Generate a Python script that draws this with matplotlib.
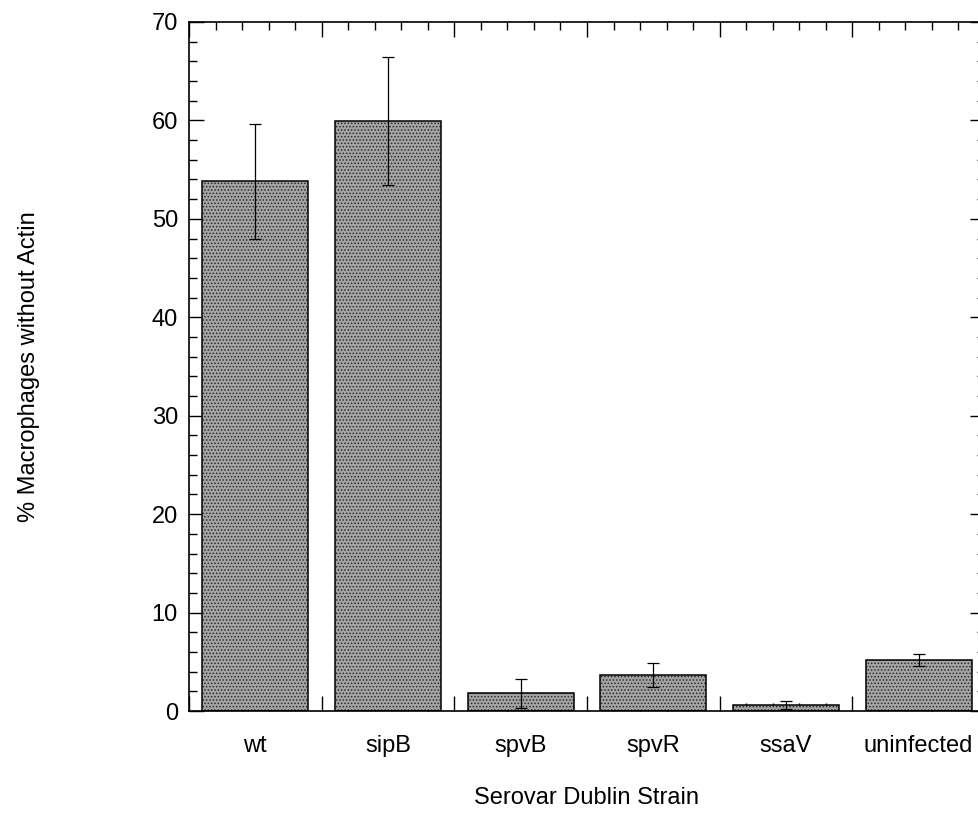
import matplotlib
matplotlib.use("Agg")
from matplotlib import pyplot as plt
from matplotlib.ticker import MultipleLocator, NullFormatter
import numpy as np

plt.rcParams['font.family'] = ['Liberation Sans', 'DejaVu Sans']
plt.rcParams['hatch.linewidth'] = 0.7

strains = ['wt', 'sipB', 'spvB', 'spvR', 'ssaV', 'uninfected']
pct_no_actin = [53.8, 59.9, 1.8, 3.65, 0.6, 5.15]
pct_err = [5.8, 6.5, 1.5, 1.2, 0.4, 0.6]

x = np.arange(len(strains)) + 0.5

fig = plt.figure(figsize=(9.79, 8.23), dpi=100)
ax = fig.add_axes([189 / 979, 112 / 823, 796 / 979, 689 / 823])

# stippled fill, then the dark outline on top
ax.bar(x, pct_no_actin, width=0.8, color='#a4a4a4', edgecolor='#2a2a2a',
       linewidth=0, hatch='.....', zorder=2)
ax.bar(x, pct_no_actin, width=0.8, fill=False, edgecolor='black',
       linewidth=1.1, zorder=3)

ax.errorbar(x, pct_no_actin, yerr=pct_err, fmt='none', ecolor='black',
            elinewidth=0.9, capsize=4.5, capthick=0.9, zorder=4)

ax.set_xlim(0, len(strains))
ax.set_ylim(0, 70)

ax.xaxis.set_major_locator(MultipleLocator(1))
ax.xaxis.set_minor_locator(MultipleLocator(0.2))
ax.xaxis.set_major_formatter(NullFormatter())
ax.yaxis.set_major_locator(MultipleLocator(10))
ax.yaxis.set_minor_locator(MultipleLocator(2))

ax.tick_params(which='both', direction='in', top=True, right=True,
               width=1, labelsize=17)
ax.tick_params(which='major', length=11, pad=8)
ax.tick_params(which='minor', length=6)

# category names under the bars
sec = ax.secondary_xaxis('bottom')
sec.set_xticks(x, strains)
sec.tick_params(length=0, labelsize=17, pad=17)
sec.spines['bottom'].set_visible(False)
sec.set_xlabel('Serovar Dublin Strain', fontsize=17, labelpad=22)

ax.set_ylabel('% Macrophages without Actin', fontsize=17, labelpad=80)

for s in ax.spines.values():
    s.set_linewidth(1.2)

fig.savefig('out.png', dpi=100)
